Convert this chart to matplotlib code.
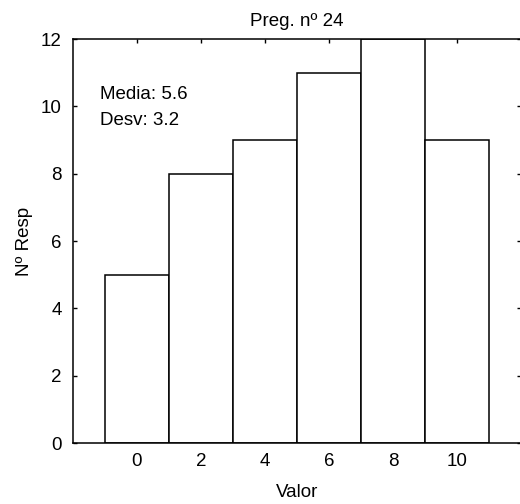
import numpy as np
import matplotlib
matplotlib.use("Agg")
import matplotlib.pyplot as plt

# Datos del histograma
valores = [0, 2, 4, 6, 8, 10]
n_resp = [5, 8, 9, 11, 12, 9]
titulo = "Preg. nº 24"
media = 5.6
desv = 3.2

plt.rcParams['font.family'] = ['Liberation Sans', 'DejaVu Sans']
fs = 13.5

fig = plt.figure(figsize=(5.2, 5.04), dpi=100)
ax = fig.add_axes([73/520, 1-443/504, 448/520, 404/504])

ax.bar(valores, n_resp, width=2, color='white', edgecolor='black', linewidth=1.1, zorder=3)

ax.set_xlim(-2, 12)
ax.set_ylim(0, 12)
ax.set_xticks(valores)
ax.set_yticks(np.arange(0, 13, 2))

ax.tick_params(axis='x', bottom=False, top=True, direction='in', length=3, width=1, pad=7, labelsize=fs)
ax.tick_params(axis='y', left=True, right=True, direction='in', length=3, width=1, pad=8, labelsize=fs)
for s in ax.spines.values():
    s.set_linewidth(1.1)
    s.set_zorder(4)

ax.set_title(titulo, fontsize=fs, pad=9)
ax.set_xlabel("Valor", fontsize=fs, labelpad=10)
ax.set_ylabel("Nº Resp", fontsize=fs, labelpad=6)

ax.text(-1.15, 10.22, "Media: %.1f" % media, fontsize=fs, va='baseline', zorder=5)
ax.text(-1.15, 9.44, "Desv: %.1f" % desv, fontsize=fs, va='baseline', zorder=5)

fig.savefig("out.png", dpi=100)
